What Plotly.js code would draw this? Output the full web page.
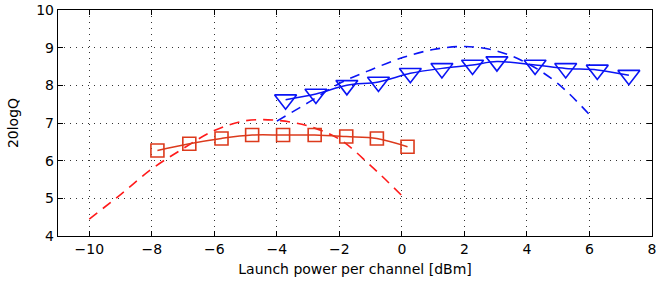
<!DOCTYPE html>
<html>
<head>
<meta charset="utf-8">
<script src="https://cdn.plot.ly/plotly-3.0.1.min.js"></script>
<style>html,body{margin:0;padding:0;background:#fff;}#chart{width:657px;height:287px;}</style>
</head>
<body>
<div id="chart"></div>
<script>
// Red (squares, measured)
const redX = [-7.82, -6.80, -5.77, -4.79, -3.80, -2.79, -1.78, -0.80, 0.18];
const redY = [6.27, 6.45, 6.59, 6.68, 6.68, 6.68, 6.64, 6.59, 6.37];
// Red dashed (model)
const redDashX = [-10, -9, -8, -7, -6, -5, -4, -3, -2, -1, 0];
const redDashY = [4.45, 5.10, 5.78, 6.32, 6.80, 7.06, 7.07, 6.92, 6.57, 5.87, 5.07];
// Blue (triangles, measured)
const blueX = [-3.72, -2.75, -1.76, -0.75, 0.27, 1.28, 2.26, 3.04, 4.26, 5.24, 6.25, 7.26];
const blueY = [7.62, 7.77, 8.00, 8.09, 8.32, 8.45, 8.54, 8.63, 8.54, 8.45, 8.41, 8.27];
// Blue dashed (model)
const blueDashX = [-4, -3, -2, -1, 0, 1, 2, 3, 4, 5, 6];
const blueDashY = [7.05, 7.54, 8.05, 8.41, 8.73, 8.95, 9.03, 8.92, 8.59, 8.04, 7.22];

const xTicks = [-10, -8, -6, -4, -2, 0, 2, 4, 6, 8];
const yTicks = [4, 5, 6, 7, 8, 9, 10];

const RED = '#dc3a1c';
const RED_DASH = '#ff1a1a';
const BLUE = '#0a14f5';
const FONT = 'DejaVu Sans, Liberation Sans, Arial, sans-serif';

const traces = [
  {x: redDashX, y: redDashY, mode: 'lines', line: {color: RED_DASH, width: 1.6, dash: '10px,7px', shape: 'spline'}, hoverinfo: 'skip'},
  {x: blueDashX, y: blueDashY, mode: 'lines', line: {color: BLUE, width: 1.6, dash: '10px,7px', shape: 'spline'}, hoverinfo: 'skip'},
  {x: redX, y: redY, mode: 'lines+markers', line: {color: RED, width: 1.5, shape: 'spline'},
   marker: {symbol: 'square-open', size: 13, color: RED, line: {color: RED, width: 1.6}}},
  {x: blueX, y: blueY, mode: 'lines+markers', line: {color: BLUE, width: 1.5, shape: 'spline'},
   marker: {symbol: 'triangle-down-open', size: 19, color: BLUE, line: {color: BLUE, width: 1.6}}}
];

const axisCommon = {
  showline: true, linecolor: '#000', linewidth: 1.2, mirror: 'ticks',
  ticks: 'inside', ticklen: 5, tickcolor: '#000', tickwidth: 1,
  showgrid: true, gridcolor: '#333', griddash: '1px,5px', gridwidth: 1,
  zeroline: false,
  tickfont: {family: FONT, size: 14, color: '#000'}
};

const layout = {
  width: 657, height: 287,
  margin: {l: 58, r: 5, t: 10, b: 51},
  paper_bgcolor: '#fff', plot_bgcolor: '#fff',
  showlegend: false,
  xaxis: Object.assign({}, axisCommon, {
    range: [-11, 8], tickvals: xTicks, ticktext: xTicks.map(v => v < 0 ? '\u2212' + Math.abs(v) : String(v)),
    title: {text: 'Launch power per channel [dBm]', font: {family: FONT, size: 14, color: '#000'}, standoff: 8}
  }),
  yaxis: Object.assign({}, axisCommon, {
    range: [4, 10], tickvals: yTicks,
    title: {text: '20logQ', font: {family: FONT, size: 14, color: '#000'}, standoff: 14}
  })
};

Plotly.newPlot('chart', traces, layout, {displayModeBar: false, staticPlot: true});
</script>
</body>
</html>
